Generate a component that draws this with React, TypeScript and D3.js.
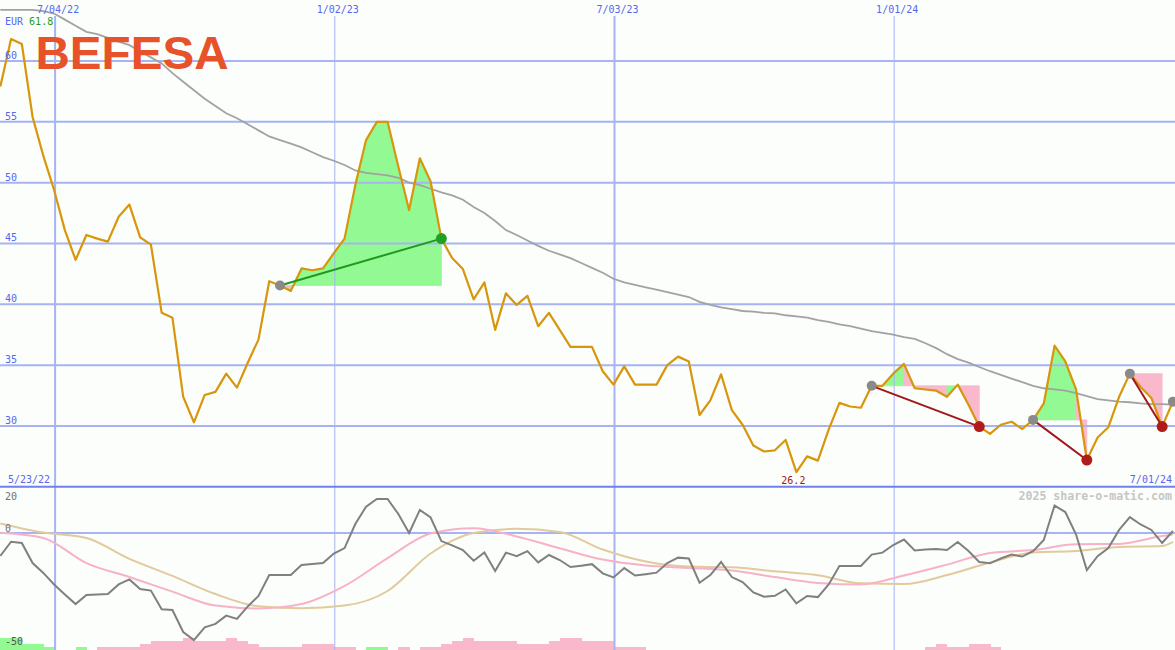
import React from "react";
import * as d3 from "d3";

const W = 1175;
const H = 650;

// weekly closes starting on this Monday
const START_WEEK = "2022-05-30";

const price = [
  57.9, 61.8, 61.4, 55.4, 52.2, 49.4, 46.1, 43.65, 45.7, 45.4,
  45.15, 47.2, 48.2, 45.5, 44.9, 39.3, 38.9, 32.4, 30.3, 32.55,
  32.8, 34.3, 33.15, 35.2, 37.1, 41.9, 41.55, 41.1, 42.95, 42.8,
  42.95, 44.2, 45.4, 49.8, 53.5, 55.0, 55.0, 51.3, 47.75, 52.0,
  50.1, 45.4, 43.8, 42.9, 40.4, 41.8, 37.9, 40.9, 39.95, 40.7,
  38.2, 39.3, 37.9, 36.5, 36.5, 36.5, 34.5, 33.4, 34.9, 33.4,
  33.4, 33.4, 35.0, 35.7, 35.3, 30.9, 32.1, 34.25, 31.3, 30.1,
  28.4, 27.9, 28.0, 28.85, 26.2, 27.5, 27.15, 29.7, 31.9, 31.6,
  31.5, 33.3, 33.3, 34.3, 35.1, 33.1, 33.0, 32.9, 32.4, 33.4,
  31.75, 29.95, 29.35, 30.1, 30.35, 29.75, 30.5, 31.85, 36.6, 35.3,
  33.0, 27.2, 29.05, 29.9, 32.4, 34.3, 33.2, 32.3, 29.95, 32.0,
];

const movingAvg = [
  64.2, 64.2, 64.2, 64.2, 64.1, 63.9, 63.4, 62.9, 62.4, 62.2,
  61.9, 61.6, 61.3, 60.8, 60.3, 59.8, 59.0, 58.3, 57.6, 56.9,
  56.3, 55.7, 55.3, 54.8, 54.3, 53.8, 53.5, 53.2, 52.9, 52.5,
  52.1, 51.8, 51.45, 51.0, 50.8, 50.7, 50.6, 50.4, 50.0, 49.8,
  49.5, 49.2, 48.95, 48.6, 48.0, 47.5, 46.85, 46.1, 45.7, 45.25,
  44.8, 44.4, 44.1, 43.8, 43.4, 43.0, 42.6, 42.1, 41.8, 41.6,
  41.4, 41.2, 41.0, 40.8, 40.6, 40.2, 39.95, 39.75, 39.6, 39.45,
  39.4, 39.3, 39.25, 39.1, 39.0, 38.9, 38.7, 38.55, 38.35, 38.2,
  38.0, 37.8, 37.65, 37.5, 37.3, 37.15, 36.8, 36.4, 35.9, 35.5,
  35.2, 34.85, 34.5, 34.2, 33.9, 33.6, 33.3, 33.1, 33.0, 32.9,
  32.7, 32.45, 32.2, 32.1, 32.0, 31.95, 31.85, 31.8, 31.8, 31.75,
];

const oscillator = [
  -10.5, -4.0, -4.6, -13.8, -18.3, -23.6, -28.2, -32.6, -28.4, -28.2,
  -28.0, -23.6, -21.3, -25.7, -26.4, -35.0, -35.3, -45.4, -49.1, -43.3,
  -41.7, -37.9, -39.4, -33.7, -28.9, -19.3, -19.3, -19.3, -14.7, -14.2,
  -13.8, -9.4, -6.9, 4.1, 12.1, 15.6, 15.6, 8.7, 0.0, 10.6,
  7.1, -3.7, -5.7, -7.8, -12.7, -8.9, -17.4, -9.0, -10.6, -8.3,
  -13.5, -10.1, -12.4, -15.6, -15.0, -14.3, -18.5, -20.4, -16.1, -19.5,
  -18.9, -18.2, -13.8, -11.3, -11.7, -22.8, -19.3, -13.3, -20.2, -22.5,
  -27.3, -29.2, -28.8, -25.9, -32.3, -28.9, -29.4, -23.6, -15.1, -15.1,
  -15.1, -9.9, -9.0, -5.5, -3.0, -8.0, -7.6, -7.3, -7.8, -4.1,
  -8.3, -13.3, -13.9, -11.7, -9.9, -10.8, -8.3, -3.2, 12.6, 9.6,
  -0.7, -17.0, -10.6, -6.9, 1.4, 7.3, 3.9, 1.4, -4.6, 0.9,
];

const SMOOTH_WEEKS = [0, 4, 8, 12, 16, 20, 24, 28, 32, 36, 40, 44, 48, 52, 56, 60, 64, 68, 72, 76, 80, 84, 88, 92, 96, 100, 104, 108, 109];
const signalPink = [0.1, -2.3, -13.8, -20.2, -26.9, -33.3, -34.6, -32.6, -24.3, -11.5, -0.2, 2.2, -1.6, -7.0, -12.2, -14.9, -16.0, -17.2, -20.2, -22.9, -23.6, -19.5, -14.5, -9.2, -7.8, -5.2, -5.0, -1.4, -0.7];
const signalTan = [4.4, 0.2, -2.3, -11.9, -19.7, -28.0, -33.6, -34.5, -33.3, -26.6, -9.4, 0.0, 1.9, 0.5, -7.6, -13.1, -15.4, -15.7, -17.6, -19.4, -23.1, -23.4, -19.3, -13.5, -8.9, -8.3, -6.4, -6.0, -4.1];

const histogram = [
  4, 4, 2, 2, 1, 0, 0, 1, 0, -1,
  -1, -1, -1, -2, -3, -3, -3, -4, -3, -3,
  -3, -4, -3, -2, -1, -1, -1, -1, -2, -2,
  -2, -1, -1, 0, 1, 1, 0, -1, 0, -1,
  -1, -2, -3, -4, -3, -3, -3, -3, -2, -2,
  -2, -3, -4, -4, -3, -3, -3, -1, -1, -1,
  0, 0, 0, 0, 0, 0, 0, 0, 0, 0,
  0, 0, 0, 0, 0, 0, 0, 0, 0, 0,
  0, 0, 0, 0, 0, 0, -1, -2, -1, -1,
  -2, -2, -1, 0, 0, 0, 0, 0, 0, 0,
  0, 0, 0, 0, 0, 0, 0, 0, 0, 0,
];

const tradeEntries = [26, 81, 96, 105];
const tradeExits = [41, 91, 101, 108];
const openEntries = [109];

const gridDates = ["2022-07-04", "2023-01-02", "2023-07-03", "2024-01-01"];
const gridLabels = ["7/04/22", "1/02/23", "7/03/23", "1/01/24"];
const priceTicks = [30, 35, 40, 45, 50, 55, 60];
const oscTicks = [20, 0, -50];
const LOW_INDEX = 74;
const HIGH_VALUE = "61.8";

const C = {
  bg: "#fbfefb",
  grid: "#a7b3f3",
  axis: "#7080ea",
  label: "#5767f2",
  price: "#d8960c",
  ma: "#a2a2a2",
  osc: "#808080",
  pink: "#f8b2c8",
  tan: "#e2ca9c",
  fillUp: "#93f993",
  fillDown: "#f9b8cb",
  lossLine: "#a3161c",
  gainLine: "#1f9a1f",
  dotGray: "#8a8a8a",
  dotRed: "#b01c1c",
  dotGreen: "#22a022",
};

const MONO = "'DejaVu Sans Mono', monospace";

export default function App() {
  const parse = d3.utcParse("%Y-%m-%d");
  const start = parse(START_WEEK)!;
  const dates = price.map((_, i) => d3.utcDay.offset(start, 7 * i));

  const x = d3
    .scaleUtc()
    .domain([parse("2022-07-04")!, parse("2024-07-01")!])
    .range([54.1, 1172.9]);
  const y = d3.scaleLinear().domain([25, 60]).range([486.8, 61]);
  const yo = d3.scaleLinear().domain([-50, 20]).range([642, 489.4]);
  const hScale = d3.scaleLinear().domain([0, 4]).range([0, 12]);

  const xi = (i: number) => x(dates[i]);

  const priceLine = d3
    .line<number>()
    .x((_, i) => xi(i))
    .y((d) => y(d))(price)!;
  const maLine = d3
    .line<number>()
    .x((_, i) => xi(i))
    .y((d) => y(d))(movingAvg)!;
  const oscLine = d3
    .line<number>()
    .x((_, i) => xi(i))
    .y((d) => yo(d))(oscillator)!;
  const smooth = (vals: number[]) =>
    d3
      .line<number>()
      .x((_, k) => xi(SMOOTH_WEEKS[k]))
      .y((d) => yo(d))
      .curve(d3.curveMonotoneX)(vals)!;

  // trade fills: trapezoid per segment, colour by end value vs entry price
  const fills: { pts: string; up: boolean }[] = [];
  tradeEntries.forEach((e, t) => {
    const base = price[e];
    for (let i = e; i < tradeExits[t]; i++) {
      const x0 = xi(i);
      const x1 = xi(i + 1);
      const pts = [
        [x0, y(base)],
        [x0, y(price[i])],
        [x1, y(price[i + 1])],
        [x1, y(base)],
      ]
        .map((p) => p.join(","))
        .join(" ");
      fills.push({ pts, up: price[i + 1] >= base });
    }
  });

  return (
    <svg
      width={W}
      height={H}
      style={{ position: "absolute", left: 0, top: 0, display: "block" }}
    >
      <rect x={0} y={0} width={W} height={H} fill={C.bg} />

      {/* histogram bars */}
      <g shapeRendering="crispEdges">
        {histogram.map((v, i) =>
          v === 0 || i + 1 >= dates.length ? null : (
            <rect
              key={"h" + i}
              x={xi(i)}
              y={H - hScale(Math.abs(v))}
              width={xi(i + 1) - xi(i) + 0.5}
              height={hScale(Math.abs(v))}
              fill={v > 0 ? C.fillUp : C.fillDown}
            />
          )
        )}
      </g>

      {/* trade fills */}
      {fills.map((f, k) => (
        <polygon
          key={"f" + k}
          points={f.pts}
          fill={f.up ? C.fillUp : C.fillDown}
          stroke={f.up ? C.fillUp : C.fillDown}
          strokeWidth={0.8}
          strokeLinejoin="round"
        />
      ))}

      {/* horizontal grid */}
      {priceTicks.map((t) => (
        <line key={"g" + t} x1={0} x2={W} y1={y(t)} y2={y(t)} stroke={C.grid} strokeWidth={2} />
      ))}
      <line x1={0} x2={W} y1={yo(0)} y2={yo(0)} stroke={C.grid} strokeWidth={2} />

      {/* vertical grid */}
      {gridDates.map((d, k) => (
        <line
          key={"v" + d}
          x1={x(parse(d)!) + 1}
          x2={x(parse(d)!) + 1}
          y1={16}
          y2={H}
          stroke={C.grid}
          strokeWidth={k % 2 === 0 ? 2 : 1}
        />
      ))}
      <line x1={0} x2={W} y1={y(25)} y2={y(25)} stroke={C.axis} strokeWidth={2} />

      {/* moving average & price */}
      <path d={maLine} fill="none" stroke={C.ma} strokeWidth={1.8} />
      <path d={priceLine} fill="none" stroke={C.price} strokeWidth={2.2} strokeLinejoin="round" />

      {/* trade lines and markers */}
      {tradeEntries.map((e, t) => {
        const ex = tradeExits[t];
        const gain = price[ex] > price[e];
        return (
          <g key={"t" + t}>
            <line
              x1={xi(e)}
              y1={y(price[e])}
              x2={xi(ex)}
              y2={y(price[ex])}
              stroke={gain ? C.gainLine : C.lossLine}
              strokeWidth={2}
            />
            <circle cx={xi(e)} cy={y(price[e])} r={5} fill={C.dotGray} />
            <circle cx={xi(ex)} cy={y(price[ex])} r={5.5} fill={gain ? C.dotGreen : C.dotRed} />
          </g>
        );
      })}
      {openEntries.map((e) => (
        <circle key={"o" + e} cx={xi(e)} cy={y(price[e])} r={5} fill={C.dotGray} />
      ))}

      {/* lower panel lines */}
      <path d={smooth(signalTan)} fill="none" stroke={C.tan} strokeWidth={2} />
      <path d={smooth(signalPink)} fill="none" stroke={C.pink} strokeWidth={2} />
      <path d={oscLine} fill="none" stroke={C.osc} strokeWidth={2} />

      {/* texts */}
      <g fontFamily={MONO} fontSize={10}>
        {gridDates.map((d, k) => (
          <text key={"tl" + d} x={x(parse(d)!) + 4} y={13} textAnchor="middle" fill={C.label}>
            {gridLabels[k]}
          </text>
        ))}
        {priceTicks.map((t) => (
          <text key={"yl" + t} x={5} y={y(t) - 2} fill={C.label}>
            {t}
          </text>
        ))}
        <text x={5} y={25}>
          <tspan fill={C.label}>EUR </tspan>
          <tspan fill="#1d9a1d">{HIGH_VALUE}</tspan>
        </text>
        <text x={8} y={483} fill={C.label}>
          {d3.utcFormat("%-m/%d/%y")(d3.utcDay.offset(start, -7))}
        </text>
        <text x={1172} y={483} textAnchor="end" fill={C.label}>
          {d3.utcFormat("%-m/%d/%y")(dates[dates.length - 1])}
        </text>
        <text x={xi(LOW_INDEX) - 3} y={484} textAnchor="middle" fill="#a01818">
          {price[LOW_INDEX].toFixed(1)}
        </text>
        {oscTicks.map((t, k) => (
          <text
            key={"ol" + t}
            x={5}
            y={k === 0 ? yo(t) + 10.5 : k === oscTicks.length - 1 ? yo(t) + 3 : yo(t) - 1}
            fill={k === oscTicks.length - 1 ? "#555" : "#707070"}
          >
            {t}
          </text>
        ))}
      </g>
      <text
        x={1172}
        y={500}
        textAnchor="end"
        fontFamily={MONO}
        fontWeight="bold"
        fontSize={11.6}
        fill="#c6c6c6"
      >
        2025 share-o-matic.com
      </text>
      <text
        x={35.5}
        y={69}
        fontFamily="'Liberation Sans', Arial, sans-serif"
        fontWeight="bold"
        fontSize={45.5}
        textLength={193}
        lengthAdjust="spacingAndGlyphs"
        fill="#e8522a"
      >
        BEFESA
      </text>
    </svg>
  );
}
